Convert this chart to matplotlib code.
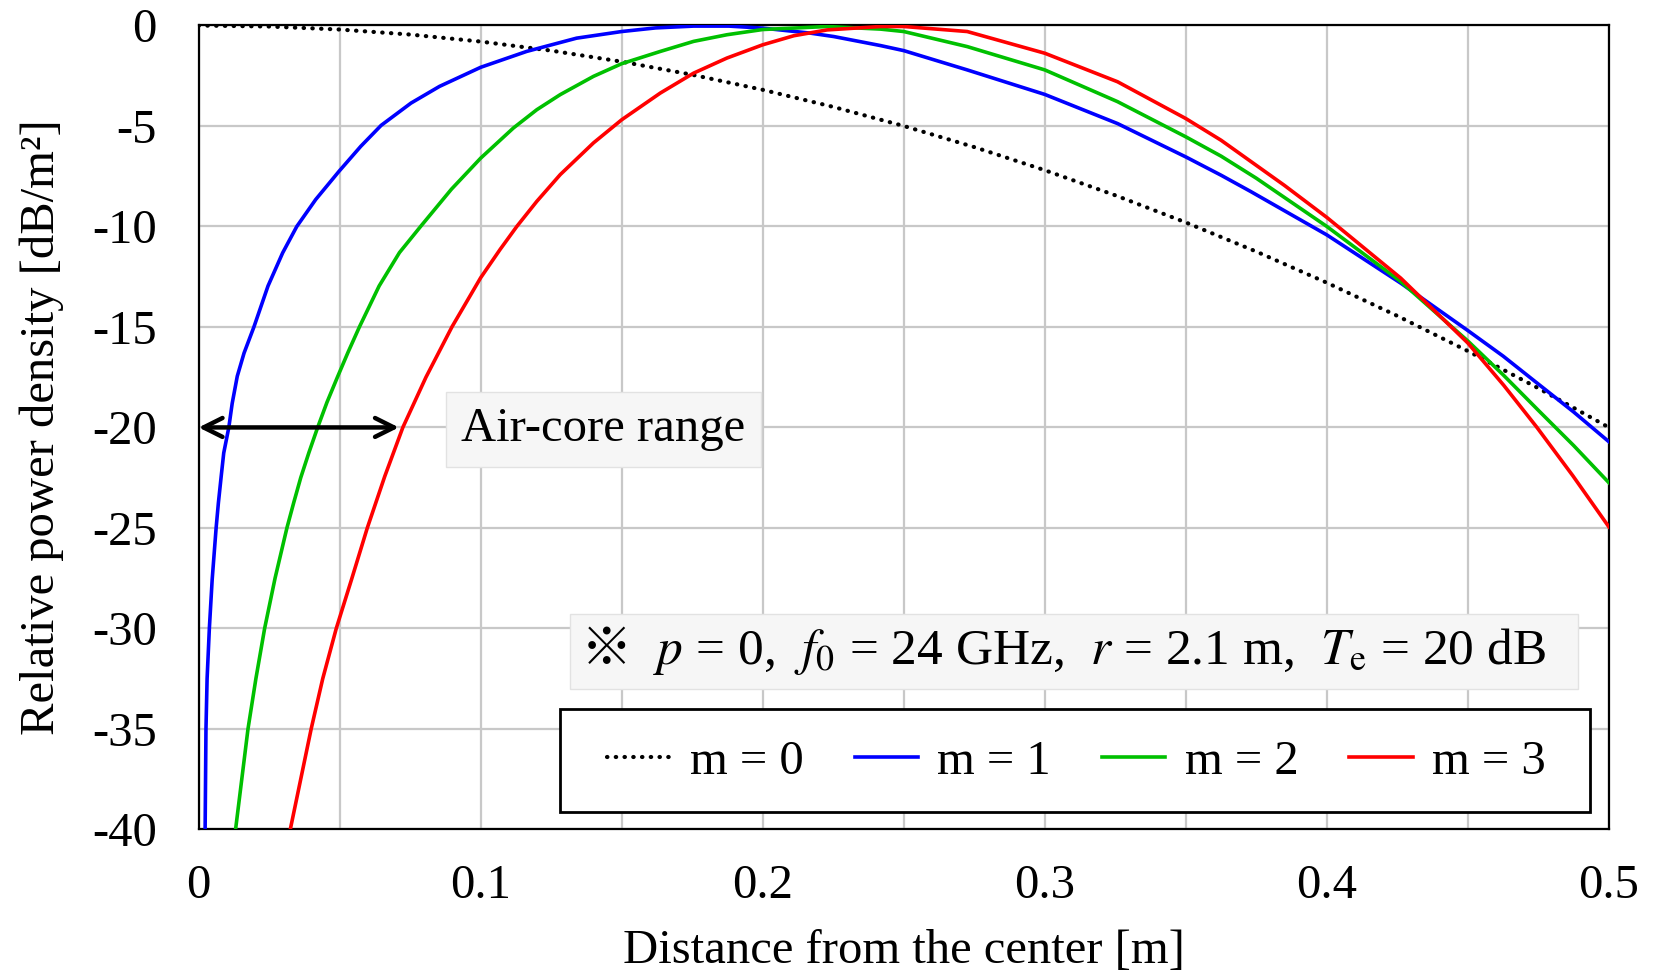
import matplotlib
matplotlib.use("Agg")
import matplotlib.pyplot as plt
from matplotlib.patches import Rectangle

plt.rcParams["font.family"] = ["Liberation Serif", "DejaVu Serif"]
plt.rcParams["mathtext.fontset"] = "stix"

# values (distance in m, power density in dB)
X_M0 = [0.0, 0.025, 0.05, 0.075, 0.1, 0.125, 0.15, 0.175, 0.2, 0.225, 0.25,
        0.275, 0.3, 0.325, 0.35, 0.375, 0.4, 0.425, 0.45, 0.475, 0.5]
DB_M0 = [0.0, -0.05, -0.2, -0.45, -0.8, -1.25, -1.8, -2.45, -3.2, -4.05, -5.0,
         -6.05, -7.2, -8.45, -9.8, -11.25, -12.8, -14.45, -16.2, -18.05, -20.0]

X_M1 = [0.0023, 0.0026, 0.0030, 0.0038, 0.0048, 0.0062, 0.0070, 0.0080, 0.0089,
        0.0107, 0.0119, 0.0137, 0.0161, 0.0196, 0.0246, 0.0298, 0.0348, 0.0415,
        0.0498, 0.0575, 0.0647, 0.0753, 0.0854, 0.1, 0.1163, 0.134, 0.15, 0.162,
        0.1755, 0.188, 0.2, 0.2169, 0.2252, 0.2418, 0.25, 0.2725, 0.3, 0.3258,
        0.35, 0.3625, 0.373, 0.4, 0.4262, 0.45, 0.4625, 0.4747, 0.4875, 0.5]
DB_M1 = [-40, -35, -32.5, -30, -27.57, -25, -23.76, -22.43, -21.27,
         -20, -18.8, -17.45, -16.3, -15, -12.96, -11.31, -10, -8.66,
         -7.25, -6.01, -4.97, -3.86, -3.03, -2.08, -1.29, -0.63, -0.3, -0.12,
         -0.03, -0.03, -0.13, -0.38, -0.55, -1.0, -1.25, -2.21, -3.43, -4.88,
         -6.54, -7.45, -8.26, -10.42, -12.82, -15.18, -16.45, -17.81, -19.23, -20.71]

X_M2 = [0.0131, 0.0175, 0.0203, 0.0234, 0.0271, 0.0313, 0.0337, 0.0362, 0.0391,
        0.0422, 0.0455, 0.0492, 0.0530, 0.0570, 0.0640, 0.0712, 0.0787, 0.0896,
        0.1, 0.1116, 0.1199, 0.1282, 0.14, 0.15, 0.1637, 0.1755, 0.1873, 0.2,
        0.2228, 0.2418, 0.25, 0.2725, 0.3, 0.3258, 0.35, 0.3625, 0.375, 0.4,
        0.4262, 0.45, 0.4625, 0.475, 0.4875, 0.5]
DB_M2 = [-40, -35, -32.5, -30, -27.5, -25, -23.75, -22.5, -21.25,
         -20, -18.75, -17.5, -16.25, -15, -12.96, -11.3, -10, -8.15,
         -6.6, -5.1, -4.19, -3.44, -2.53, -1.9, -1.29, -0.79, -0.46, -0.2,
         -0.05, -0.18, -0.3, -1.05, -2.21, -3.79, -5.54, -6.5, -7.6, -10.0,
         -12.74, -15.7, -17.38, -19.15, -20.9, -22.75]

X_M3 = [0.0325, 0.0399, 0.044, 0.0488, 0.0542, 0.0598, 0.066, 0.0724, 0.0806,
        0.0898, 0.1, 0.1069, 0.1128, 0.1199, 0.1282, 0.14, 0.15, 0.1637, 0.1755,
        0.1873, 0.2, 0.211, 0.2228, 0.2418, 0.25, 0.2725, 0.3, 0.3258, 0.35,
        0.3625, 0.3849, 0.4, 0.4262, 0.45, 0.4627, 0.4745, 0.4872, 0.5]
DB_M3 = [-40, -35, -32.5, -30, -27.57, -25, -22.43, -20, -17.5,
         -15, -12.55, -11.14, -10, -8.75, -7.42, -5.84, -4.69, -3.36, -2.37,
         -1.62, -0.96, -0.51, -0.22, -0.05, -0.05, -0.3, -1.38, -2.8, -4.63,
         -5.71, -7.95, -9.55, -12.57, -15.8, -17.9, -20.0, -22.4, -24.95]

AIR_CORE_END = 0.071
AIR_CORE_LEVEL = -20

X_TICKS = [0, 0.1, 0.2, 0.3, 0.4, 0.5]
X_TICK_LABELS = ["0", "0.1", "0.2", "0.3", "0.4", "0.5"]
Y_TICKS = [0, -5, -10, -15, -20, -25, -30, -35, -40]

FS = 35
GRID = "#c8c8c8"

fig = plt.figure(figsize=(16.65, 9.77), dpi=100)
ax = fig.add_axes([0.1193, 0.1511, 0.847, 0.8228])

ax.plot(X_M0, DB_M0, color="black", lw=3.0, linestyle=(0, (0.1, 2.0)),
        dash_capstyle="round", label="m = 0", zorder=3)
ax.plot(X_M1, DB_M1, color="#0000ff", lw=2.6, label="m = 1", zorder=3)
ax.plot(X_M2, DB_M2, color="#00c000", lw=2.6, label="m = 2", zorder=3)
ax.plot(X_M3, DB_M3, color="#ff0000", lw=2.6, label="m = 3", zorder=3)

ax.set_xlim(0, 0.5)
ax.set_ylim(-40, 0)
ax.set_xticks(X_TICKS)
ax.set_xticklabels(X_TICK_LABELS)
ax.set_xticks([0.05, 0.15, 0.25, 0.35, 0.45], minor=True)
ax.set_yticks(Y_TICKS)
ax.set_yticklabels([str(v) for v in Y_TICKS])
ax.grid(True, which="major", color=GRID, lw=1.6)
ax.grid(True, which="minor", axis="x", color=GRID, lw=1.6)
ax.set_axisbelow(True)
ax.tick_params(axis="both", which="both", length=0, labelsize=FS)
ax.tick_params(axis="y", pad=30)
ax.tick_params(axis="x", pad=25)
for sp in ax.spines.values():
    sp.set_linewidth(1.6)
    sp.set_color("black")

ax.set_xlabel("Distance from the center [m]", fontsize=FS, labelpad=15)
ax.set_ylabel("Relative power density [dB/m\u00b2]", fontsize=FS, labelpad=20)

ax.annotate("", xy=(0, AIR_CORE_LEVEL), xytext=(AIR_CORE_END, AIR_CORE_LEVEL),
            arrowprops=dict(arrowstyle="<->", lw=3.2, color="black",
                            mutation_scale=34, shrinkA=0, shrinkB=0), zorder=5)
ax.text(0.1435, -20.1, "Air-core range", fontsize=FS, ha="center", va="center",
        zorder=6, bbox=dict(boxstyle="square,pad=0.32", fc="#f6f6f6", ec="#e2e2e2", lw=1))

# parameter note box
ax.add_patch(Rectangle((0.1317, -33.0), 0.3572, 3.7, fc="#f6f6f6", ec="#e2e2e2",
                       lw=1, zorder=5))
ax.text(0.1445, -31.1, "\u203b", fontsize=37, family=["Noto Sans CJK JP", "DejaVu Sans"],
        ha="center", va="center", zorder=6)
ax.text(0.1612, -31.15,
        r"$p$ = 0,  $f_0$ = 24 GHz,  $r$ = 2.1 m,  $T_\mathrm{e}$ = 20 dB",
        fontsize=37, ha="left", va="center", zorder=6)

# legend with a hand-drawn frame
ax.add_patch(Rectangle((0.256, 0.0211), 0.7304, 0.1282, transform=ax.transAxes,
                       fc="white", ec="black", lw=2, zorder=6))
leg = ax.legend(loc="center", bbox_to_anchor=(0.6225, 0.0835), ncol=4,
                fontsize=FS, frameon=False, handlelength=1.3, handletextpad=0.4,
                columnspacing=1.05, borderpad=0.0, borderaxespad=0)
leg.set_zorder(7)

fig.savefig("out.png", dpi=100)
